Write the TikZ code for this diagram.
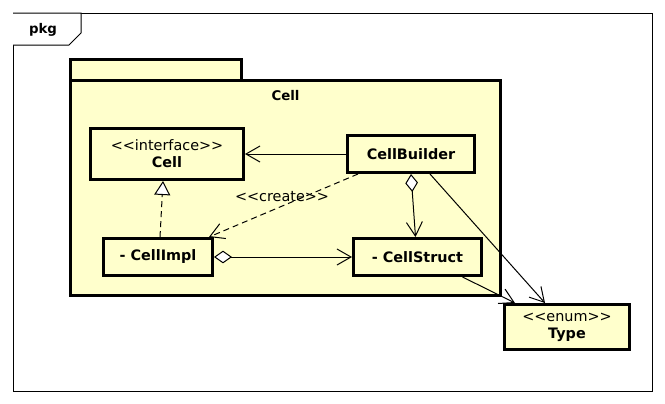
\documentclass[tikz,border=0pt]{standalone}
\usepackage{fontspec}
\setmainfont{DejaVu Sans}[Ligatures=TeXOff]
\usetikzlibrary{arrows.meta,calc}
\definecolor{pkgfill}{HTML}{FFFFCC}
\tikzset{
	txt/.style={font=\fontsize{10.8pt}{12.75pt}\selectfont},
	cls/.style={txt,draw,line width=2.25pt,fill=pkgfill,align=center,inner sep=0pt},
	lnk/.style={line width=0.75pt},
	dsh/.style={dash pattern=on 4.5pt off 3pt},
	opn/.tip={Straight Barb[length=10.5pt,width=12pt]},
	real/.tip={Triangle[fill=white,length=10.5pt,width=12pt]},
	dia/.tip={Diamond[fill=white,length=13.5pt,width=9.5pt]}
}
\begin{document}
\begin{tikzpicture}[x=0.75pt,y=-0.75pt]
		\useasboundingbox (0,0) rectangle (665,404);
		%Рамка pkg
		\draw [line width=0.75pt] (13,13) rectangle (652,391);
		\draw [line width=0.75pt,fill=white] (13,13)--(81,13)--(81,33)--(69,45)--(13,45);
		\node[txt,font=\bfseries] (pkg) at (43,30) {pkg};
		
		%Пакет Cell
		\draw [line width=2.25pt,fill=pkgfill] (70.5,59.5) rectangle (241.5,80.5);
		\draw [line width=2.25pt,fill=pkgfill] (70.5,80.5) rectangle (500.5,295.5);
		\node[txt,font=\bfseries] (cellpkg) at (285.5,96) {Cell};
		
		%Классы
		\node[cls,minimum width=114.75pt,minimum height=38.25pt] (cell) at (167,154) {<<interface>>\\\textbf{Cell}};
		\node[cls,minimum width=95.25pt,minimum height=27.75pt] (builder) at (411,154) {\textbf{CellBuilder}};
		\node[cls,minimum width=81.75pt,minimum height=27.75pt] (impl) at (158,257) {\textbf{- CellImpl}};
		\node[cls,minimum width=96pt,minimum height=27.75pt] (struct) at (417.5,257) {\textbf{- CellStruct}};
		\node[cls,minimum width=93.75pt,minimum height=33.75pt] (type) at (567,327) {<<enum>>\\\textbf{Type}};
		
		%Связи
		\draw [lnk,-opn] (builder.west)--(cell.east);
		\draw [lnk,dsh,-opn] ($(builder.south west)+(12,0)$)--($(impl.north east)+(-5,0)$);
		\node[txt] (create) at (282,197) {<<create>>};
		\draw [lnk,dsh,-real] ($(impl.north)+(2,0)$)--($(cell.south)+(-4,0)$);
		\draw [lnk,dia-opn] (impl.east)--(struct.west);
		\draw [lnk,dia-opn] (builder.south)--($(struct.north)+(-2,0)$);
		\draw [lnk,-opn] ($(builder.south)+(19,0)$)--($(type.north)+(-22,0)$);
		\draw [lnk,-opn] ($(struct.south)+(45,0)$)--($(type.north)+(-52,0)$);
	\end{tikzpicture}
\end{document}
